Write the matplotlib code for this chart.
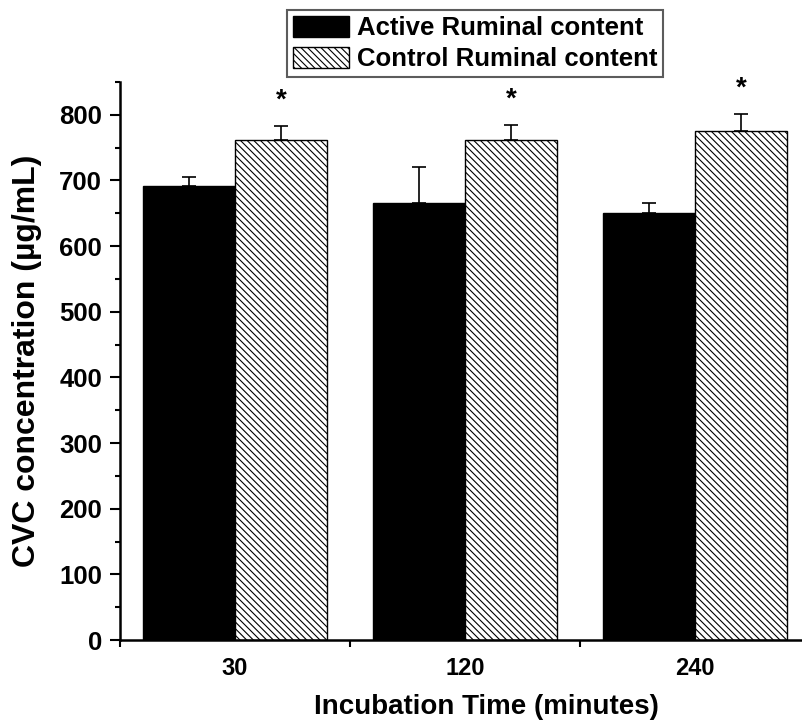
import numpy as np
import matplotlib
matplotlib.use("Agg")
import matplotlib.pyplot as plt
from matplotlib.ticker import MultipleLocator, FixedLocator

plt.rcParams['font.family'] = ['Liberation Sans', 'DejaVu Sans']
plt.rcParams['font.weight'] = 'bold'
plt.rcParams['hatch.linewidth'] = 0.8

# data
times = ["30", "120", "240"]
active_mean = [692, 666, 651]
active_err = [14, 55, 14]
control_mean = [761, 761, 775]
control_err = [22, 23, 26]
signif = ["*", "*", "*"]

x = np.arange(len(times))
width = 0.4

fig = plt.figure(figsize=(8.02, 7.21), dpi=100)
ax = fig.add_axes([120 / 802, 81 / 721, 690 / 802, 558 / 721])

ax.bar(x - width / 2, active_mean, width, color="black", edgecolor="black",
       linewidth=1, label="Active Ruminal content")
ax.bar(x + width / 2, control_mean, width, color="white", edgecolor="black",
       linewidth=1, hatch="\\\\\\\\\\", label="Control Ruminal content")

zeros = np.zeros(len(times))
ax.errorbar(x - width / 2, active_mean, yerr=[zeros, active_err], fmt="none",
            ecolor="black", elinewidth=1.2, capsize=5, capthick=1.2)
ax.errorbar(x + width / 2, control_mean, yerr=[zeros, control_err], fmt="none",
            ecolor="black", elinewidth=1.2, capsize=5, capthick=1.2)

for xi, m, e, s in zip(x + width / 2, control_mean, control_err, signif):
    ax.annotate(s, (xi, m + e), xytext=(0, 9), textcoords="offset points",
                ha="center", va="bottom", fontsize=20, fontweight="bold")

ax.set_xlim(-0.5, 2.5)
ax.set_ylim(0, 850)
ax.set_xticks(x)
ax.set_xticklabels(times)
ax.xaxis.set_minor_locator(FixedLocator([-0.5, 0.5, 1.5, 2.5]))
ax.tick_params(axis="x", which="major", length=0, pad=12, labelsize=17)
ax.tick_params(axis="x", which="minor", length=5, width=1.5, direction="out")
ax.yaxis.set_major_locator(MultipleLocator(100))
ax.yaxis.set_minor_locator(MultipleLocator(50))
ax.tick_params(axis="y", which="major", length=7, width=1.5, pad=6, labelsize=18.5)
ax.tick_params(axis="y", which="minor", length=3.5, width=1.5)

for side in ["top", "right"]:
    ax.spines[side].set_visible(False)
for side in ["left", "bottom"]:
    ax.spines[side].set_linewidth(1.8)

ax.set_xlabel("Incubation Time (minutes)", fontsize=20, fontweight="bold")
ax.xaxis.set_label_coords((486 - 120) / 690, -(694 - 640) / 558)
ax.xaxis.label.set_va("top")
ax.set_ylabel("CVC concentration (\u00b5g/mL)", fontsize=23, fontweight="bold")
ax.yaxis.set_label_coords((42 - 120) / 690, 0.5)

leg = ax.legend(loc="upper left", bbox_to_anchor=((287 - 120) / 690, (640 - 10) / 558),
                fontsize=18.5, frameon=True, fancybox=False, handlelength=2.2,
                handleheight=0.9, handletextpad=0.3, borderpad=0.22,
                labelspacing=0.25, borderaxespad=0)
leg.get_frame().set_edgecolor("#333333")
leg.get_frame().set_linewidth(1.5)

fig.savefig("out.png", dpi=100)
